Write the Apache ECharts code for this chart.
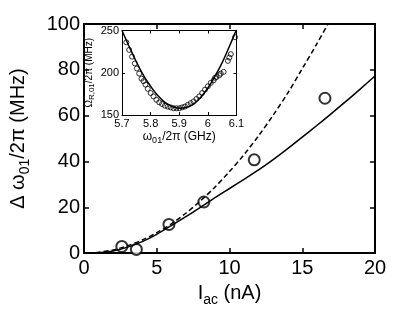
<!DOCTYPE html>
<html><head><meta charset="utf-8">
<script src="https://cdn.jsdelivr.net/npm/echarts@6/dist/echarts.min.js"></script>
<style>html,body{margin:0;padding:0;background:#fff}#c{width:415px;height:312px}</style>
</head><body><div id="c"></div>
<script>
// Main plot data
const measCurrent = [2.6, 3.6, 5.84, 8.24, 11.7, 16.56];
const measShift = [2.9, 1.6, 12.5, 22.3, 40.7, 67.6];
const solidCurrent = [0.8,2,3,4,5,6,7,8,9,10,11,12,13,14,15,16,17,18,19,20];
const solidShift = [0,0.9,2.6,5,8.2,12,15.9,20,24.2,28.2,32.2,36.3,40.8,45.6,50.6,55.7,60.9,66.2,71.7,77.3];
const dashCurrent = [0.8,2,3,4,5,6,7,8,9,10,11,12,13,14,15,16,16.9];
const dashShift = [0.2,1.4,3.2,5.7,8.9,12.8,17.4,22.8,28.8,35.6,43,51.2,60.2,69.8,80.5,91.3,101.5];
const mainXTicks = [0, 5, 10, 15, 20];
const mainYTicks = [0, 20, 40, 60, 80, 100];
// Inset data
const insetFreq = [5.715,5.725,5.735,5.745,5.752,5.76,5.768,5.775,5.782,5.79,5.8,5.81,5.82,5.83,5.84,5.85,5.86,5.87,5.88,5.89,5.9,5.91,5.92,5.93,5.94,5.95,5.96,5.97,5.98,5.99,6.0,6.01,6.02,6.025,6.03,6.04,6.045,6.055,6.07,6.075,6.08,6.095];
const insetRabi = [236,227,219,211,205,199,193,190,186,181,176,172,168,165,163,161,160,159,158,158,158,159,160,162,164,166,169,172,176,180,184,188,191,194,195,197,199,201,214,218,222,242];
const insetLineFreq = [5.7,5.725,5.75,5.775,5.8,5.825,5.85,5.875,5.9,5.925,5.95,5.975,6.0,6.025,6.05,6.075,6.1];
const insetLineRabi = [250,231,213,197,184,173,165,160,158,159,163,171,182,196,212,231,251];
const insetXTicks = [5.7, 6.1, 0.1];
const insetYTicks = [150, 250, 50];

const FF = "'Liberation Sans', Arial, sans-serif";
const zip = (a, b) => a.map((v, i) => [v, b[i]]);
const chart = echarts.init(document.getElementById('c'), null, {renderer: 'canvas'});

function axisBase(extra) {
  return Object.assign({
    axisLine: {show: true, onZero: false, lineStyle: {color: '#000', width: 2}},
    axisTick: {show: true, inside: true, length: 5, lineStyle: {color: '#000', width: 1.5}},
    splitLine: {show: false},
    axisLabel: {show: false}
  }, extra);
}
function insetAxis(extra) {
  return Object.assign({
    axisLine: {show: true, onZero: false, lineStyle: {color: '#000', width: 1}},
    axisTick: {show: true, inside: true, length: 3, lineStyle: {color: '#000', width: 1}},
    splitLine: {show: false},
    axisLabel: {show: false}
  }, extra);
}

const mainLabel = {show: true, color: '#000', fontSize: 20, fontFamily: FF};
const insetLabel = {show: true, color: '#000', fontSize: 11, fontFamily: FF};

const option = {
  animation: false,
  backgroundColor: '#fff',
  grid: [
    {left: 77, top: 24, width: 298, height: 230, show: false},
    {left: 122, top: 30.5, width: 114.5, height: 84.5, show: true, backgroundColor: '#fff', borderWidth: 0}
  ],
  xAxis: [
    axisBase({type: 'value', gridIndex: 0, position: 'bottom', min: mainXTicks[0], max: mainXTicks[mainXTicks.length-1], interval: 5,
      axisLabel: Object.assign({margin: 5}, mainLabel),
      name: '{n|I}{s|ac}{n| (nA)}', nameLocation: 'middle', nameGap: 20,
      nameTextStyle: {color: '#000', fontFamily: FF, rich: {
        n: {fontSize: 20, fontFamily: FF, color: '#000'},
        s: {fontSize: 14, fontFamily: FF, color: '#000', padding: [14, 0, 0, 0]}
      }}}),
    axisBase({type: 'value', gridIndex: 0, position: 'top', min: 0, max: 20, interval: 5}),
    insetAxis({type: 'value', gridIndex: 1, position: 'bottom', min: insetXTicks[0], max: insetXTicks[1], interval: insetXTicks[2],
      axisLabel: Object.assign({margin: 3, formatter: v => String(+v.toFixed(1))}, insetLabel),
      name: '{n|ω}{s|01}{n|/2π (GHz)}', nameLocation: 'middle', nameGap: 14,
      nameTextStyle: {color: '#000', fontFamily: FF, rich: {
        n: {fontSize: 12, fontFamily: FF, color: '#000'},
        s: {fontSize: 9, fontFamily: FF, color: '#000', padding: [7, 0, 0, 0]}
      }}}),
    insetAxis({type: 'value', gridIndex: 1, position: 'top', min: 5.7, max: 6.1, interval: 0.1})
  ],
  yAxis: [
    axisBase({type: 'value', gridIndex: 0, position: 'left', min: mainYTicks[0], max: mainYTicks[mainYTicks.length-1], interval: 20,
      axisLabel: Object.assign({margin: 4}, mainLabel),
      name: '{n|Δ ω}{s|01}{n|/2π (MHz)}', nameLocation: 'middle', nameGap: 52, nameRotate: 90,
      nameTextStyle: {color: '#000', fontFamily: FF, rich: {
        n: {fontSize: 20, fontFamily: FF, color: '#000'},
        s: {fontSize: 14, fontFamily: FF, color: '#000', padding: [14, 0, 0, 0]}
      }}}),
    axisBase({type: 'value', gridIndex: 0, position: 'right', min: 0, max: 100, interval: 20}),
    insetAxis({type: 'value', gridIndex: 1, position: 'left', min: insetYTicks[0], max: insetYTicks[1], interval: insetYTicks[2],
      axisLabel: Object.assign({margin: 3}, insetLabel),
      name: '{n|Ω\u0305}{s|R,01}{n|/2π (MHz)}', nameLocation: 'middle', nameGap: 26, nameRotate: 90,
      nameTextStyle: {color: '#000', fontFamily: FF, rich: {
        n: {fontSize: 10, fontFamily: FF, color: '#000'},
        s: {fontSize: 8, fontFamily: FF, color: '#000', padding: [6, 0, 0, 0]}
      }}}),
    insetAxis({type: 'value', gridIndex: 1, position: 'right', min: 150, max: 250, interval: 50})
  ],
  series: [
    {type: 'line', xAxisIndex: 0, yAxisIndex: 0, data: zip(solidCurrent, solidShift), showSymbol: false, smooth: 0.3, clip: true,
      lineStyle: {color: '#000', width: 1.5}},
    {type: 'line', xAxisIndex: 0, yAxisIndex: 0, data: zip(dashCurrent, dashShift), showSymbol: false, smooth: 0.3, clip: true,
      lineStyle: {color: '#000', width: 1.5, type: [5, 3]}},
    {type: 'scatter', xAxisIndex: 0, yAxisIndex: 0, data: zip(measCurrent, measShift), symbol: 'circle', symbolSize: 11,
      itemStyle: {color: '#fff', borderColor: '#000', borderWidth: 2}},
    {type: 'line', xAxisIndex: 2, yAxisIndex: 2, data: zip(insetLineFreq, insetLineRabi), showSymbol: false, smooth: 0.4, clip: true,
      lineStyle: {color: '#000', width: 1.5}},
    {type: 'scatter', xAxisIndex: 2, yAxisIndex: 2, data: zip(insetFreq, insetRabi), symbol: 'circle', symbolSize: 5,
      itemStyle: {color: 'rgba(255,255,255,0)', borderColor: '#000', borderWidth: 1}}
  ]
};
chart.setOption(option);
</script></body></html>
